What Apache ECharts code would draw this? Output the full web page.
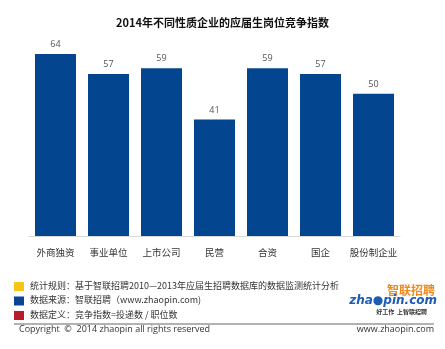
<!DOCTYPE html>
<html><head><meta charset="utf-8">
<script src="https://cdn.jsdelivr.net/npm/echarts@6/dist/echarts.min.js"></script>
<style>html,body{margin:0;padding:0;background:#fff}#c{width:445px;height:349px}</style>
</head><body><div id="c"></div>
<script>
const categories = ['外商独资','事业单位','上市公司','民营','合资','国企','股份制企业'];
const values = [64, 57, 59, 41, 59, 57, 50];
const titleText = '2014年不同性质企业的应届生岗位竞争指数';
const notes = ['统计规则：基于智联招聘2010—2013年应届生招聘数据库的数据监测统计分析','数据来源：智联招聘（www.zhaopin.com)','数据定义：竞争指数=投递数 / 职位数'];
const noteColors = ['#f5c518','#0a4594','#b71c2b'];
const font = '"Noto Sans CJK SC","Microsoft YaHei",sans-serif';
const chart = echarts.init(document.getElementById('c'));
const graphic = [];
notes.forEach((t,i)=>{
  graphic.push({type:'rect',left:14,top:282+i*14.5,shape:{width:10,height:9},style:{fill:noteColors[i]}});
  graphic.push({type:'text',left:30,top:281+i*14.5,style:{text:t,font:'9px '+font,fill:'#333'}});
});
graphic.push({type:'line',shape:{x1:14,y1:324,x2:434,y2:324},style:{stroke:'#999',lineWidth:1.5}});
graphic.push({type:'text',left:19,top:325,style:{text:'Copyright  ©  2014 zhaopin all rights reserved',font:'9px "Open Sans",sans-serif',fill:'#333'}});
graphic.push({type:'text',right:11,top:325,style:{text:'www.zhaopin.com',font:'9px "Open Sans",sans-serif',fill:'#333'}});
graphic.push({type:'text',right:10,top:284,style:{text:'智联招聘',font:'bold 12px '+font,fill:'#f08a1c'}});
graphic.push({type:'text',right:8,top:295,style:{text:'zha●pin.com',font:'italic bold 12px "DejaVu Sans",sans-serif',fill:'#1e5bb5'}});
graphic.push({type:'text',right:18,top:309,style:{text:'好工作  上智联招聘',font:'bold 6px '+font,fill:'#333'}});
chart.setOption({
  animation:false,
  title:{text:titleText,left:'center',top:12,textStyle:{fontFamily:font,fontSize:11,fontWeight:'bold',color:'#111'}},
  grid:{left:29,right:45,top:37,bottom:113},
  xAxis:{type:'category',data:categories,axisTick:{show:false},axisLine:{lineStyle:{color:'#d9d9d9'}},
    axisLabel:{interval:0,fontFamily:font,fontSize:9.5,color:'#333',margin:12}},
  yAxis:{type:'value',min:0,max:70,show:false,splitLine:{show:false}},
  series:[{type:'bar',data:values,barWidth:41,itemStyle:{color:'#03458f'},
    label:{show:true,position:'top',fontSize:9,color:'#555',fontFamily:'"Open Sans",sans-serif',distance:5}}],
  graphic:graphic
});
</script></body></html>
